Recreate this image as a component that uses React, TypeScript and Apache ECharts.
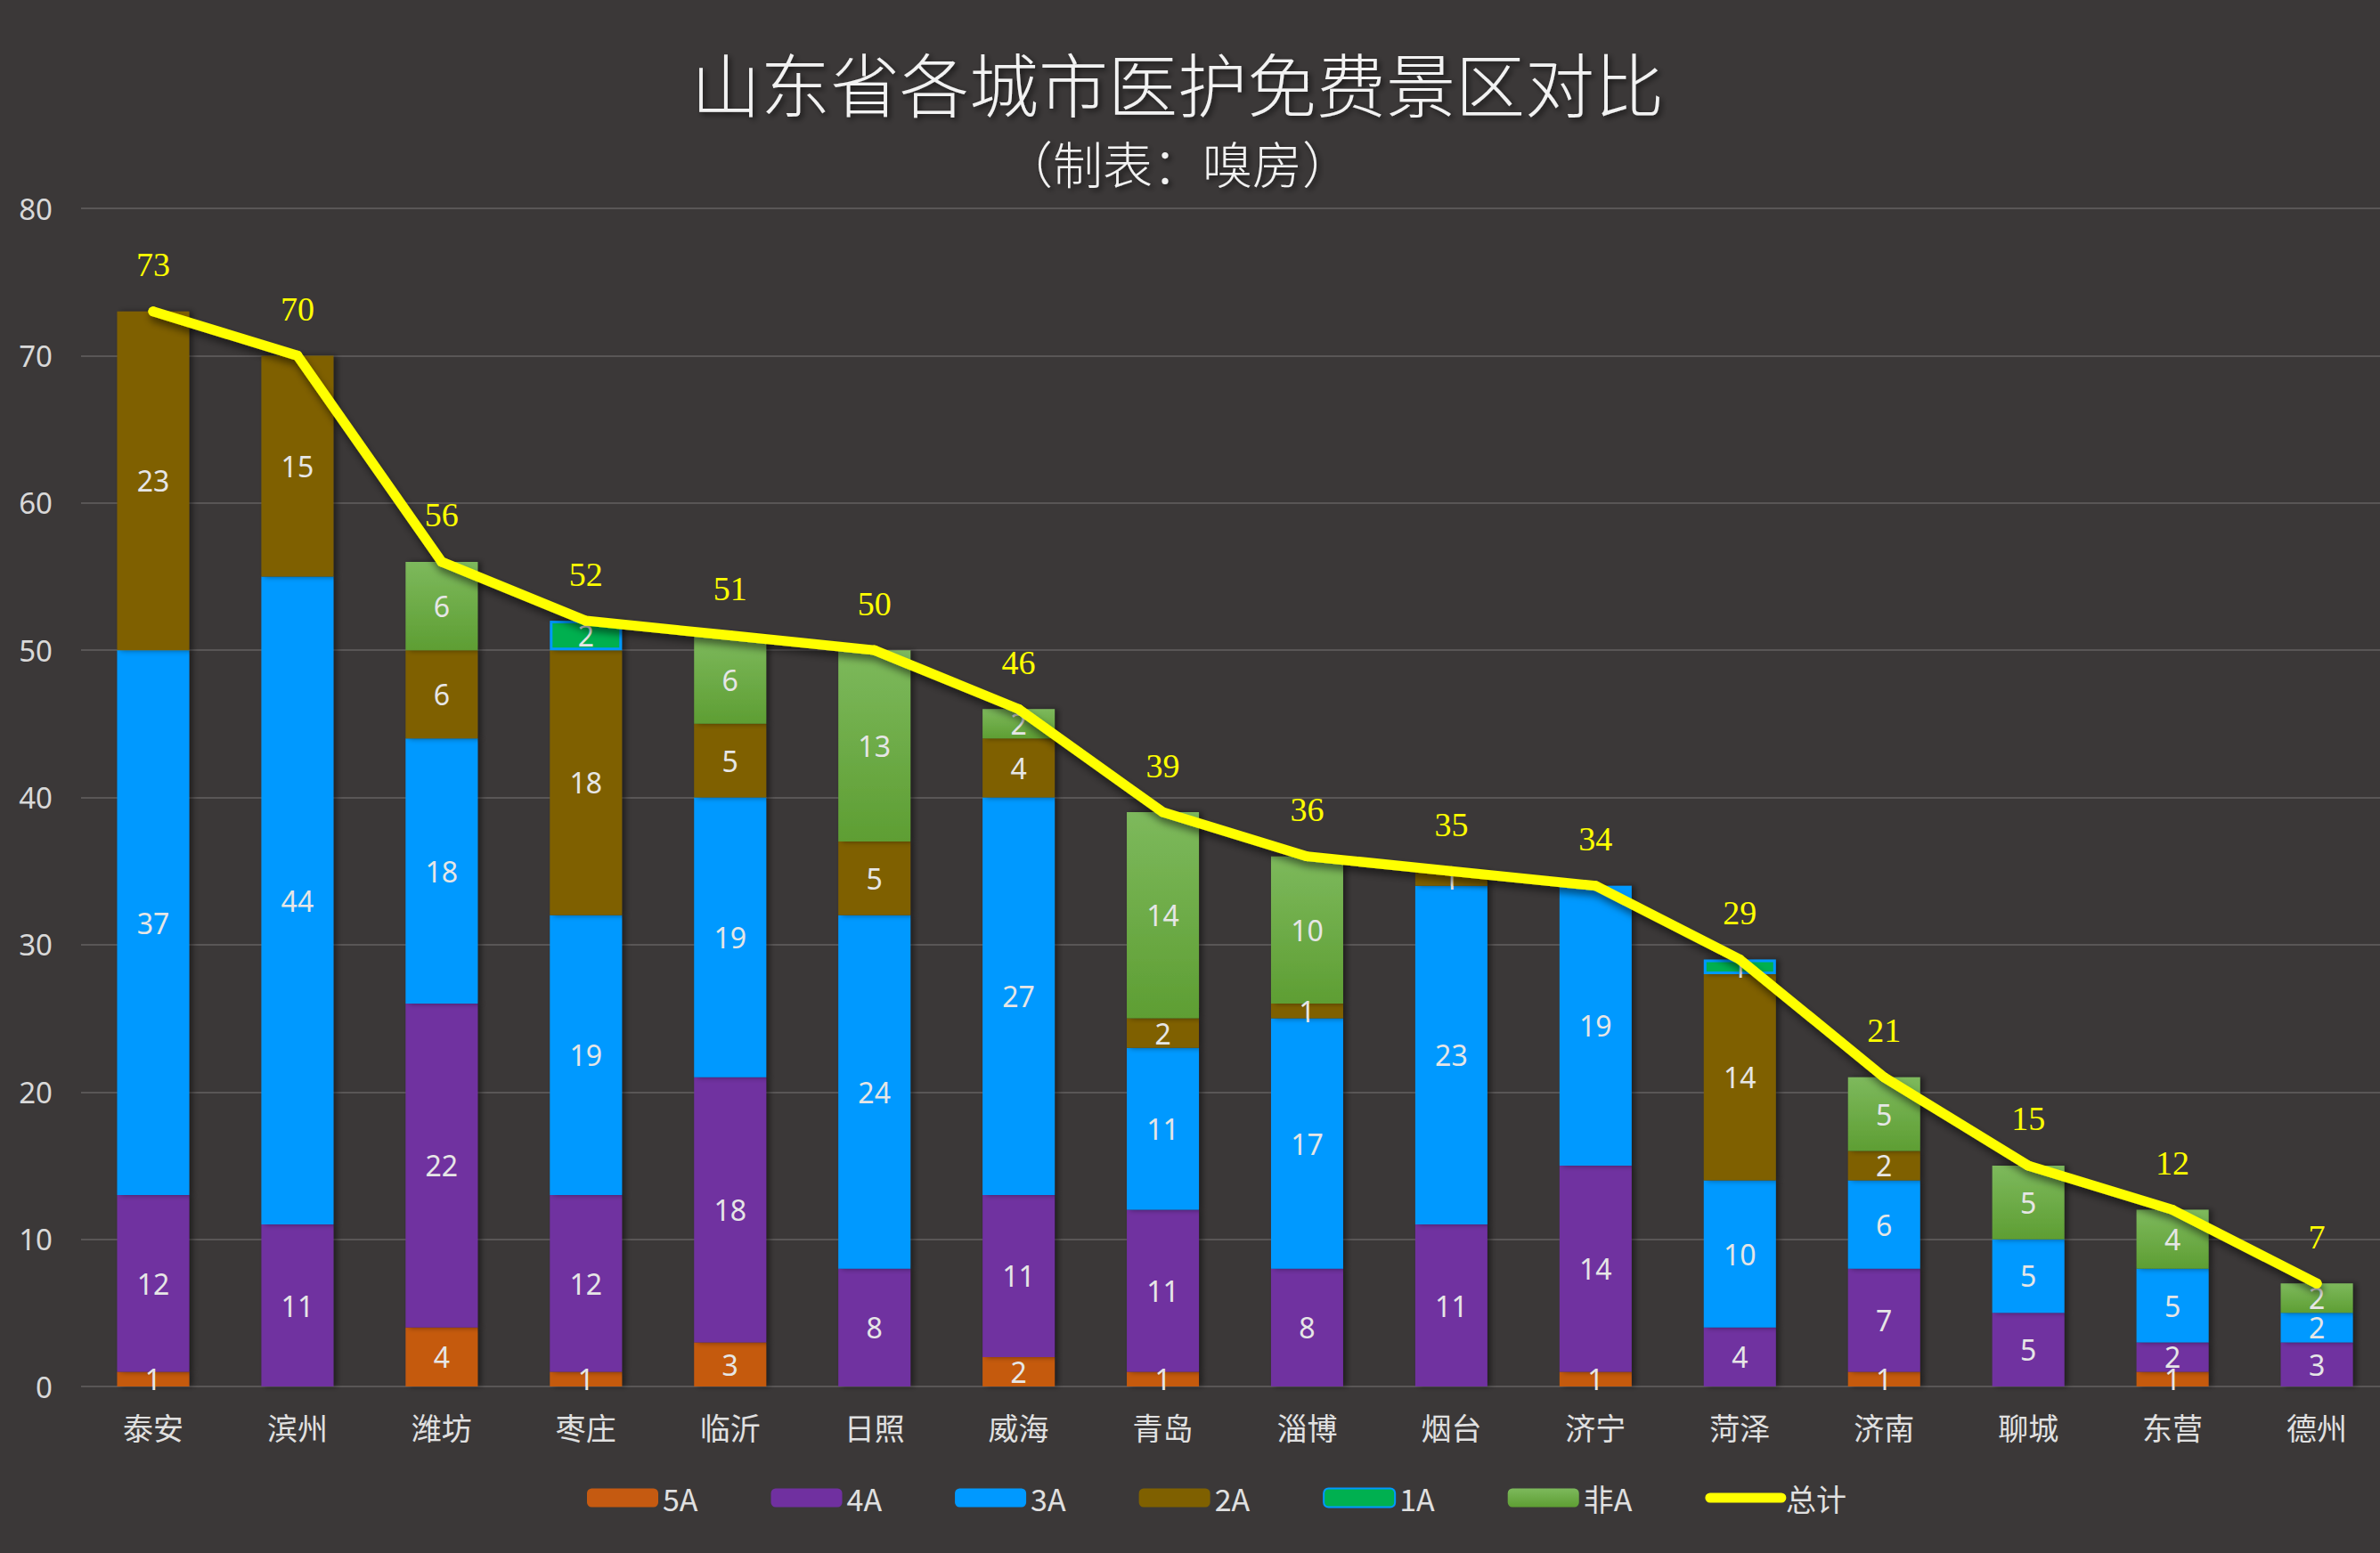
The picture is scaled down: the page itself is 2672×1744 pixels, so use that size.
import React, { useEffect, useRef } from "react";
import * as echarts from "echarts";

const cities = ["泰安", "滨州", "潍坊", "枣庄", "临沂", "日照", "威海", "青岛", "淄博", "烟台", "济宁", "菏泽", "济南", "聊城", "东营", "德州"];
const s5A = [1, 0, 4, 1, 3, 0, 2, 1, 0, 0, 1, 0, 1, 0, 1, 0];
const s4A = [12, 11, 22, 12, 18, 8, 11, 11, 8, 11, 14, 4, 7, 5, 2, 3];
const s3A = [37, 44, 18, 19, 19, 24, 27, 11, 17, 23, 19, 10, 6, 5, 5, 2];
const s2A = [23, 15, 6, 18, 5, 5, 4, 2, 1, 1, 0, 14, 2, 0, 0, 0];
const s1A = [0, 0, 0, 2, 0, 0, 0, 0, 0, 0, 0, 1, 0, 0, 0, 0];
const sNonA = [0, 0, 6, 0, 6, 13, 2, 14, 10, 0, 0, 0, 5, 5, 4, 2];
const totals = [73, 70, 56, 52, 51, 50, 46, 39, 36, 35, 34, 29, 21, 15, 12, 7];
const yTicks = [0, 10, 20, 30, 40, 50, 60, 70, 80];

const titleText = "山东省各城市医护免费景区对比";
const subText = "（制表：嗅房）";

export default function App() {
  const ref = useRef<HTMLDivElement>(null);
  useEffect(() => {
    document.body.style.margin = "0";
    document.body.style.overflow = "hidden";
    const chart = echarts.init(ref.current!, null, { renderer: "svg" });
    const labelStyle = {
      show: true,
      position: "inside",
      color: "#E6E6E6",
      fontSize: 32,
      fontFamily: "Noto Sans",
      formatter: (p: any) => (p.value ? String(p.value) : ""),
    };
    const shadow = {
      shadowColor: "rgba(0,0,0,0.45)",
      shadowBlur: 6,
      shadowOffsetX: 4,
      shadowOffsetY: 0,
    };
    const nz = (arr: number[]) => arr.map((v) => (v === 0 ? null : v));
    const mkBar = (name: string, data: number[], itemStyle: any) => ({
      name,
      type: "bar",
      stack: "all",
      barWidth: "50%",
      data: nz(data),
      itemStyle: { ...shadow, ...itemStyle },
      label: labelStyle,
    });
    const green = new echarts.graphic.LinearGradient(0, 0, 0, 1, [
      { offset: 0, color: "#7DB95C" },
      { offset: 1, color: "#5E9E33" },
    ]);
    const titleShadow = {
      textShadowColor: "rgba(0,0,0,0.6)",
      textShadowBlur: 6,
      textShadowOffsetX: 3,
      textShadowOffsetY: 3,
    };
    chart.setOption({
      animation: false,
      backgroundColor: "#3B3838",
      graphic: [
        {
          type: "text",
          x: 1322,
          y: 92,
          style: {
            text: titleText,
            textAlign: "center",
            textVerticalAlign: "middle",
            fill: "#F2F2F2",
            fontSize: 78,
            lineHeight: 78,
            fontWeight: 300,
            fontFamily: "Noto Sans CJK SC",
            ...titleShadow,
          },
        },
        {
          type: "text",
          x: 1322,
          y: 181,
          style: {
            text: subText,
            textAlign: "center",
            textVerticalAlign: "middle",
            fill: "#F2F2F2",
            fontSize: 56,
            lineHeight: 56,
            fontWeight: 300,
            fontFamily: "Noto Sans CJK SC",
            ...titleShadow,
          },
        },
      ],
      legend: {
        left: 654,
        top: 1660,
        itemWidth: 80,
        itemHeight: 21,
        itemGap: 82,
        data: ["5A", "4A", "3A", "2A", "1A", "非A", { name: "总计", itemStyle: { opacity: 0 } }],
        textStyle: { color: "#E0E0E0", fontSize: 34, fontFamily: "Noto Sans CJK SC" },
        lineStyle: { width: 11, cap: "round" },
      },
      grid: { left: 91, top: 234, width: 2591, height: 1323, containLabel: false },
      xAxis: {
        type: "category",
        data: cities,
        axisLine: { show: false },
        axisTick: { show: false },
        axisLabel: {
          color: "#E0E0E0",
          fontSize: 34,
          fontFamily: "Noto Sans CJK SC",
          margin: 28,
        },
      },
      yAxis: {
        type: "value",
        min: yTicks[0],
        max: yTicks[yTicks.length - 1],
        interval: 10,
        axisLine: { show: false },
        axisTick: { show: false },
        axisLabel: { color: "#D9D9D9", fontSize: 33, fontFamily: "Noto Sans", margin: 32 },
        splitLine: { lineStyle: { color: "#595656", width: 2 } },
      },
      series: [
        mkBar("5A", s5A, { color: "#C55A11" }),
        mkBar("4A", s4A, { color: "#7030A0" }),
        mkBar("3A", s3A, { color: "#0099FF" }),
        mkBar("2A", s2A, { color: "#7F6000" }),
        mkBar("1A", s1A, { color: "#00B050", borderColor: "#0099FF", borderWidth: 3 }),
        mkBar("非A", sNonA, { color: green }),
        {
          name: "总计",
          type: "line",
          data: totals,
          symbol: "circle",
          symbolSize: 11,
          showSymbol: true,
          z: 10,
          itemStyle: { color: "#FFFF00" },
          lineStyle: {
            color: "#FFFF00",
            width: 11,
            cap: "round",
            join: "round",
            shadowColor: "rgba(0,0,0,0.5)",
            shadowBlur: 8,
            shadowOffsetX: 2,
            shadowOffsetY: 6,
          },
          label: {
            show: true,
            position: "top",
            distance: 28,
            color: "#FFFF00",
            fontSize: 38,
            fontFamily: "Liberation Serif",
          },
        },
      ],
    });
    return () => chart.dispose();
  }, []);
  return <div ref={ref} style={{ width: 2690, height: 1744 }} />;
}
